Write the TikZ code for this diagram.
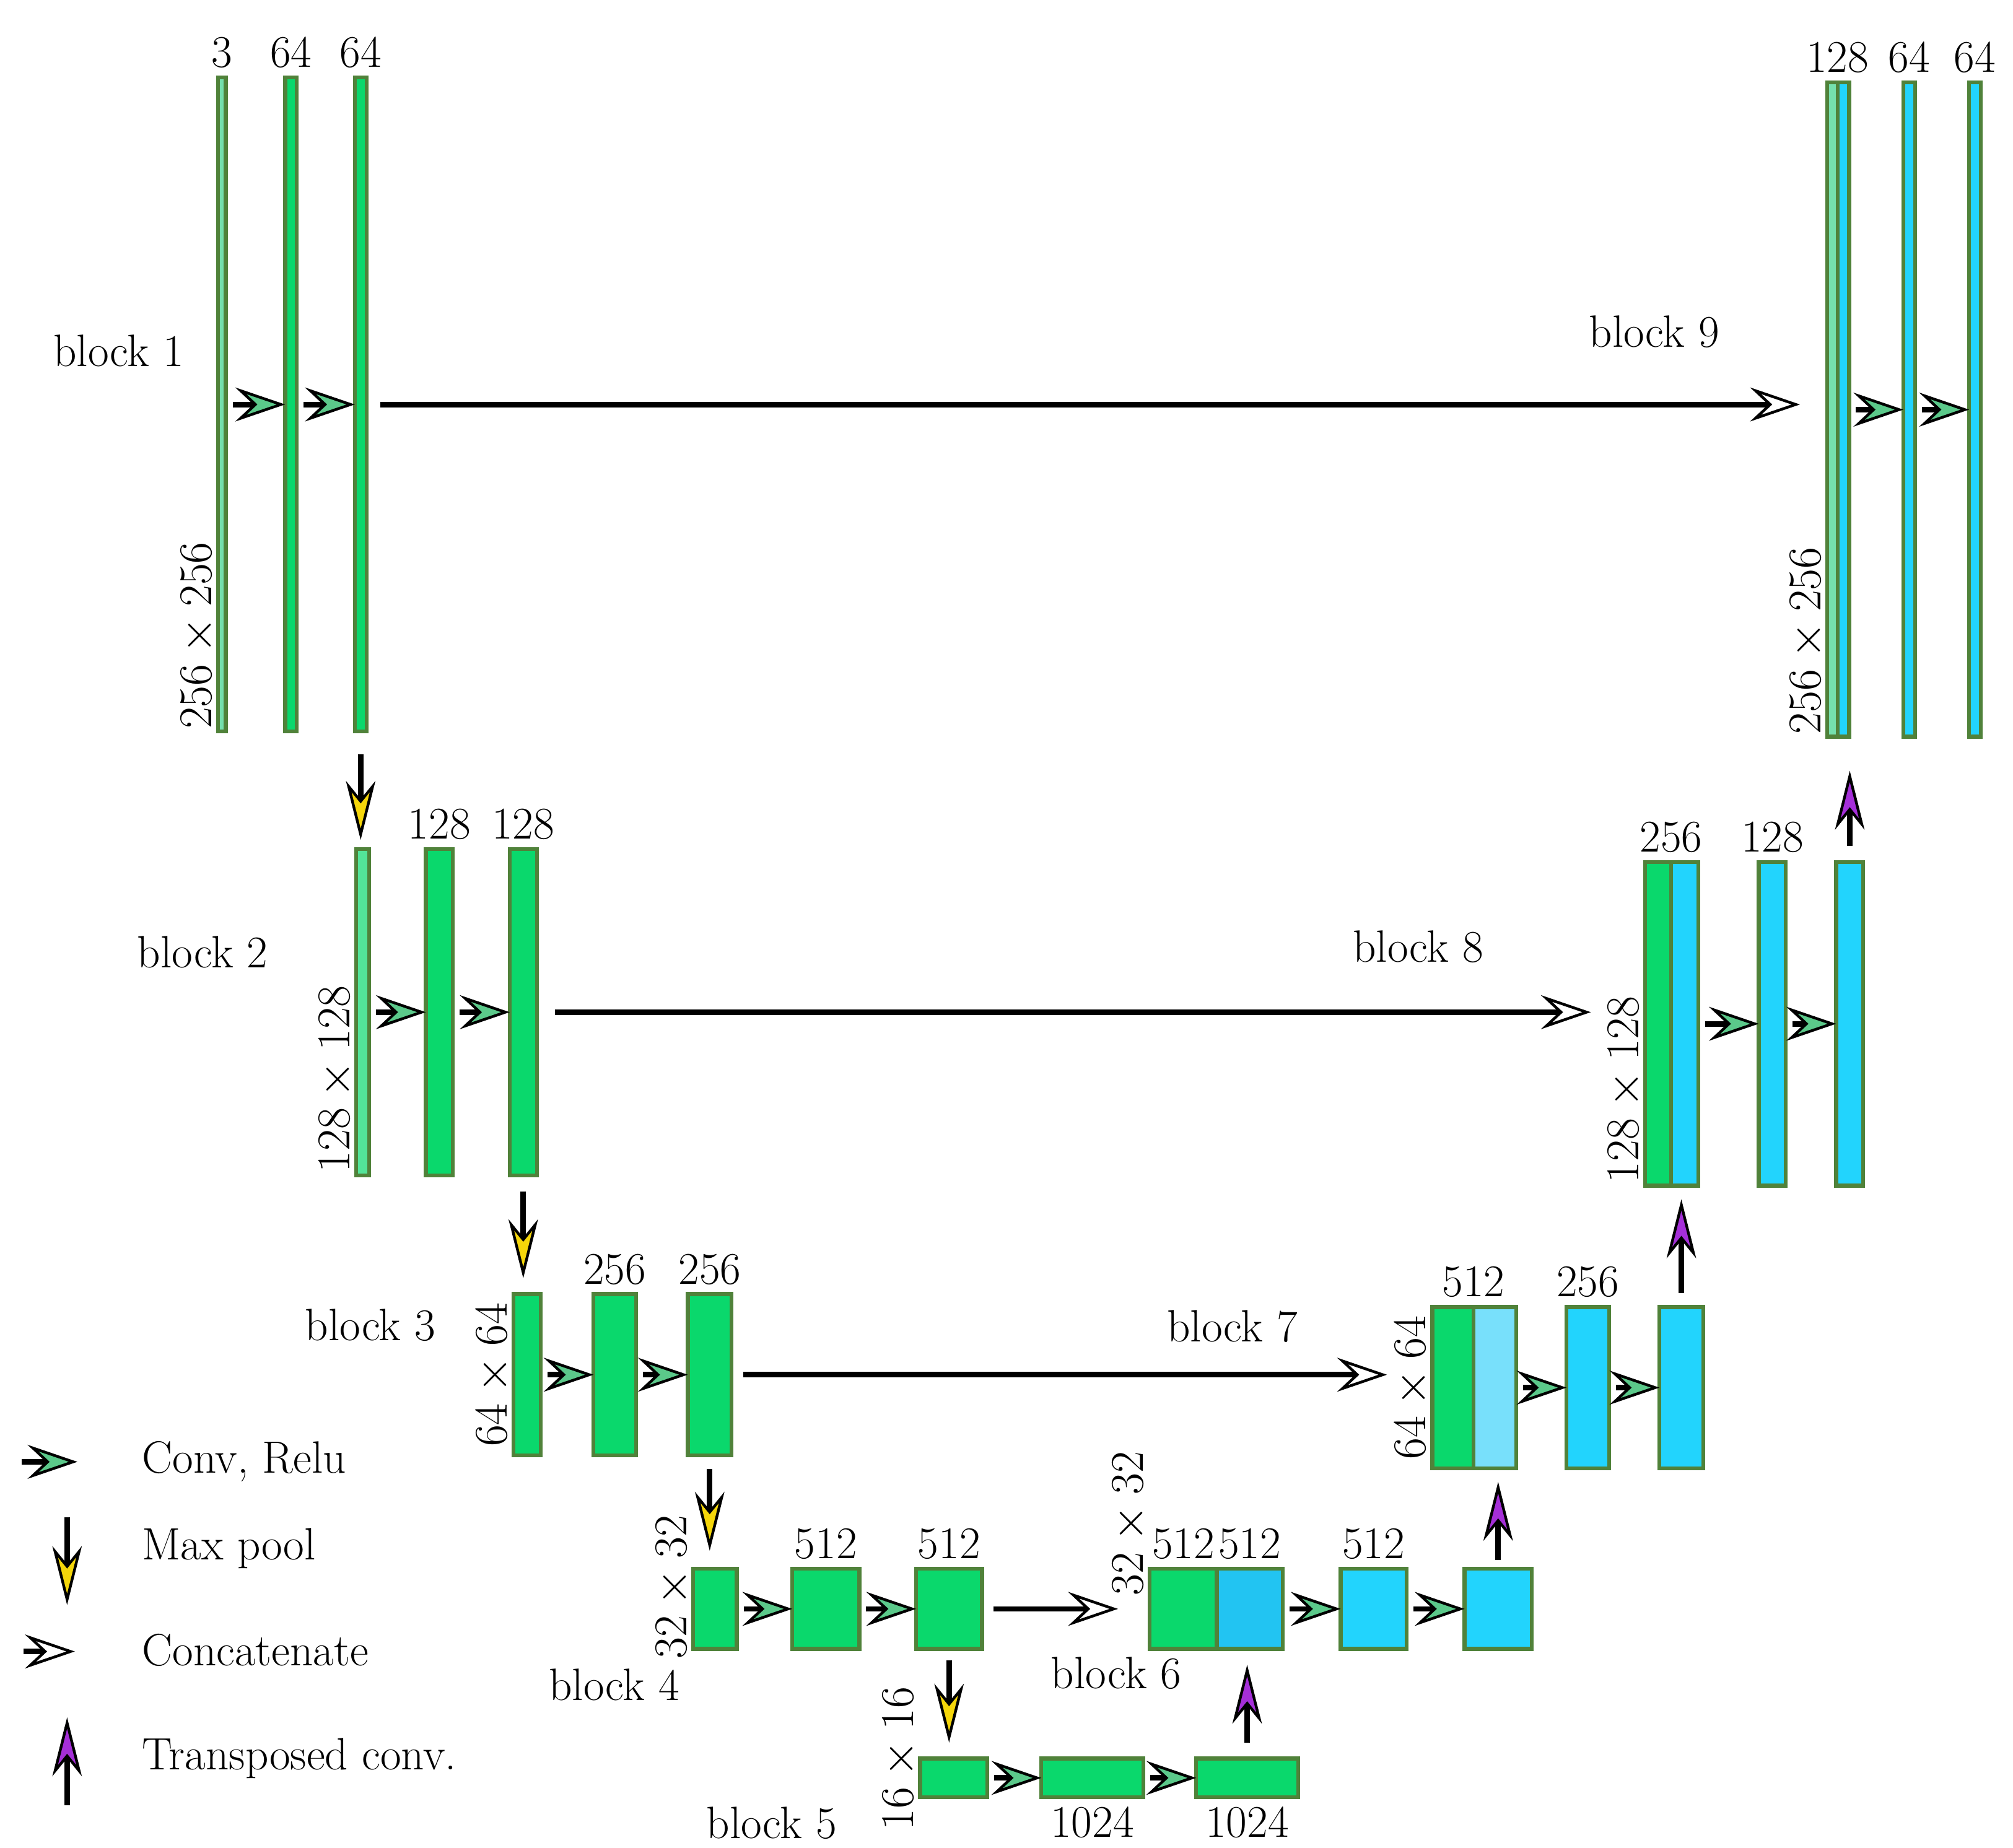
\documentclass[tikz,border=0pt]{standalone}
\usepackage{amsmath}
\usetikzlibrary{arrows.meta,positioning}
\definecolor{fmgreen}{HTML}{0AD86C}
\definecolor{fmlight}{HTML}{75E0AD}
\definecolor{fmblue}{HTML}{22D4FD}
\definecolor{fmdeep}{HTML}{22C4F2}
\definecolor{fmsky}{HTML}{78E0FB}
\definecolor{fmedge}{HTML}{50823A}
\definecolor{convcol}{HTML}{5BC98A}
\definecolor{poolcol}{HTML}{F5D60A}
\definecolor{upcol}{HTML}{A52FD8}
\tikzset{
  layer/.style={draw=fmedge,line width=1.7pt,inner sep=0pt,outer sep=0pt},
  conv/.style={line width=2.4pt,-{Stealth[length=22pt,width=15pt,inset=8pt,fill=convcol,line width=1.2pt]}},
  concat/.style={line width=2.4pt,-{Stealth[length=22pt,width=15pt,inset=8pt,fill=white,line width=1.2pt]}},
  pool/.style={line width=2.4pt,-{Stealth[length=26pt,width=13pt,inset=8pt,fill=poolcol,line width=1.2pt]}},
  upconv/.style={line width=2.4pt,-{Stealth[length=26pt,width=13pt,inset=8pt,fill=upcol,line width=1.2pt]}},
  dim/.style={inner sep=1pt},
}
% layer from x1 x2 y1 y2
\newcommand{\lay}[6]{\node[layer,fill=#6,minimum width={(#3-#2)*0.02cm},minimum height={(#5-#4)*0.02cm}] (#1) at ({(#2+#3)/2},{-(#4+#5)/2}) {};}
\begin{document}
\begin{tikzpicture}[x=0.02cm,y=0.02cm,font=\fontsize{20}{24}\selectfont]
  \useasboundingbox (0,0) rectangle (1560,-1432);
  % encoder
  \lay{b1a}{169}{175}{60}{567}{fmlight}
  \lay{b1b}{221}{230}{60}{567}{fmgreen}
  \lay{b1c}{275}{284}{60}{567}{fmgreen}
  \lay{b2a}{276}{286}{658}{911}{fmgreen!70!white}
  \lay{b2b}{330}{351}{658}{911}{fmgreen}
  \lay{b2c}{395}{416}{658}{911}{fmgreen}
  \lay{b3a}{398}{419}{1003}{1128}{fmgreen}
  \lay{b3b}{460}{493}{1003}{1128}{fmgreen}
  \lay{b3c}{533}{567}{1003}{1128}{fmgreen}
  \lay{b4a}{537}{571}{1216}{1278}{fmgreen}
  \lay{b4b}{614}{666}{1216}{1278}{fmgreen}
  \lay{b4c}{710}{761}{1216}{1278}{fmgreen}
  \lay{b5a}{713}{765}{1363}{1393}{fmgreen}
  \lay{b5b}{807}{886}{1363}{1393}{fmgreen}
  \lay{b5c}{927}{1006}{1363}{1393}{fmgreen}
  % decoder
  \lay{b6a}{891}{943}{1216}{1278}{fmgreen}
  \lay{b6b}{943}{994}{1216}{1278}{fmdeep}
  \lay{b6c}{1039}{1090}{1216}{1278}{fmblue}
  \lay{b6d}{1135}{1187}{1216}{1278}{fmblue}
  \lay{b7a}{1110}{1142}{1013}{1138}{fmgreen}
  \lay{b7b}{1142}{1175}{1013}{1138}{fmsky}
  \lay{b7c}{1214}{1247}{1013}{1138}{fmblue}
  \lay{b7d}{1286}{1320}{1013}{1138}{fmblue}
  \lay{b8a}{1275}{1295}{668}{919}{fmgreen}
  \lay{b8b}{1295}{1316}{668}{919}{fmblue}
  \lay{b8c}{1363}{1384}{668}{919}{fmblue}
  \lay{b8d}{1423}{1444}{668}{919}{fmblue}
  \lay{b9a}{1416}{1424}{64}{571}{fmlight}
  \lay{b9b}{1424}{1433}{64}{571}{fmblue}
  \lay{b9c}{1475}{1484}{64}{571}{fmblue}
  \lay{b9d}{1526}{1535}{64}{571}{fmblue}

  % channel numbers
  \node[dim,above=3pt of b1a] {3};
  \node[dim,above=3pt of b1b] {64};
  \node[dim,above=3pt of b1c] {64};
  \node[dim,above=3pt of b2b] {128};
  \node[dim,above=3pt of b2c] {128};
  \node[dim,above=3pt of b3b] {256};
  \node[dim,above=3pt of b3c] {256};
  \node[dim,above=3pt of b4b] {512};
  \node[dim,above=3pt of b4c] {512};
  \node[dim,below=3pt of b5b] {1024};
  \node[dim,below=3pt of b5c] {1024};
  \node[dim,above=3pt of b6a] {512};
  \node[dim,above=3pt of b6b] {512};
  \node[dim,above=3pt of b6c] {512};
  \node[dim,above=3pt of b7a.north east] {512};
  \node[dim,above=3pt of b7c] {256};
  \node[dim,above=3pt of b8a.north east] {256};
  \node[dim,above=3pt of b8c] {128};
  \node[dim,above=3pt of b9b.north west] {128};
  \node[dim,above=3pt of b9c] {64};
  \node[dim,above=3pt of b9d] {64};

  % sizes
  \node[rotate=90,anchor=south west,dim] at (b1a.south west) {$256\times256$};
  \node[rotate=90,anchor=south west,dim] at (b2a.south west) {$128\times128$};
  \node[rotate=90,anchor=south,dim] at (b3a.west) {$64\times64$};
  \node[rotate=90,anchor=south,dim] at ([yshift=-8pt]b4a.north west) {$32\times32$};
  \node[rotate=90,anchor=south,dim] at (b5a.north west) {$16\times16$};
  \node[rotate=90,anchor=south,dim] at ([yshift=20pt]b6a.north west) {$32\times32$};
  \node[rotate=90,anchor=south,dim] at (b7a.west) {$64\times64$};
  \node[rotate=90,anchor=south west,dim] at (b8a.south west) {$128\times128$};
  \node[rotate=90,anchor=south west,dim] at (b9a.south west) {$256\times256$};

  % block names
  \node (n1) at (92,-272) {block 1};
  \node (n2) at (157,-738) {block 2};
  \node (n3) at (287,-1027) {block 3};
  \node (n4) at (476,-1306) {block 4};
  \node (n5) at (598,-1413) {block 5};
  \node (n6) at (865,-1297) {block 6};
  \node (n7) at (955,-1028) {block 7};
  \node (n8) at (1099,-734) {block 8};
  \node (n9) at (1282,-257) {block 9};

  % conv, relu
  \foreach \s/\t in {b1a/b1b,b1b/b1c,b2a/b2b,b2b/b2c,b3a/b3b,b3b/b3c,b4a/b4b,b4b/b4c,
                     b5a/b5b,b5b/b5c,b6b/b6c,b6c/b6d,b7b/b7c,b7c/b7d,b8b/b8c,b8c/b8d,b9b/b9c,b9c/b9d}
    \draw[conv,shorten <=3pt] (\s.east) -- (\t.west);
  % skip connections
  \draw[concat,shorten <=6pt,shorten >=12pt] (b1c.east) -- (b1c.east -| b9a.west);
  \draw[concat,shorten <=8pt,shorten >=24pt] (b2c.east) -- (b2c.east -| b8a.west);
  \draw[concat,shorten <=5pt,shorten >=20pt] (b3c.east) -- (b3c.east -| b7a.west);
  \draw[concat,shorten <=5pt,shorten >=14pt] (b4c.east) -- (b6a.west);
  % max pool
  \draw[pool,shorten <=10pt,shorten >=4pt] (b1c.south) -- (b1c.south |- b2a.north);
  \draw[pool,shorten <=7pt,shorten >=7pt] (b2c.south) -- (b2c.south |- b3a.north);
  \draw[pool,shorten <=6pt,shorten >=8pt] (b3c.south) -- (b3c.south |- b4a.north);
  \draw[pool,shorten <=5pt,shorten >=7pt] (b4c.south) -- (b4c.south |- b5a.north);
  % transposed conv
  \draw[upconv,shorten <=7pt,shorten >=7pt] (b5c.north) -- (b5c.north |- b6b.south);
  \draw[upconv,shorten <=4pt,shorten >=6pt] (b6d.north) -- (b6d.north |- b7b.south);
  \draw[upconv,shorten <=6pt,shorten >=6pt] (b7d.north) -- (b7d.north |- b8b.south);
  \draw[upconv,shorten <=7pt,shorten >=15pt] (b8d.north) -- (b8d.north |- b9b.south);

  % legend
  \coordinate (l1s) at (17,-1133);  \coordinate (l1e) at (60,-1133);
  \coordinate (l2s) at (52,-1176);  \coordinate (l2e) at (52,-1244);
  \coordinate (l3s) at (18,-1280);  \coordinate (l3e) at (58,-1280);
  \coordinate (l4s) at (52,-1399);  \coordinate (l4e) at (52,-1331);
  \draw[conv] (l1s) -- (l1e);
  \draw[pool] (l2s) -- (l2e);
  \draw[concat] (l3s) -- (l3e);
  \draw[upconv] (l4s) -- (l4e);
  \node[anchor=west] at (104,-1133) {Conv, Relu};
  \node[anchor=west] at (104,-1200) {Max pool};
  \node[anchor=west] at (104,-1279) {Concatenate};
  \node[anchor=west] at (104,-1363) {Transposed conv.};
\end{tikzpicture}
\end{document}
